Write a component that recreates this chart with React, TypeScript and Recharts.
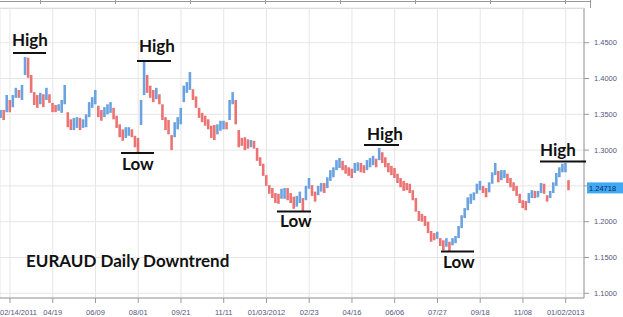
import { BarChart, Bar, Cell, XAxis, YAxis, CartesianGrid, ReferenceLine } from 'recharts';

const xLabels = ['02/14/2011', '04/19', '06/09', '08/01', '09/21', '11/11', '01/03/2012', '02/23', '04/16', '06/06', '07/27', '09/18', '11/08', '01/02/2013'];

// one bar every ~2.6 trading days
const highs = [
  1.356, 1.356, 1.377, 1.370, 1.377, 1.387, 1.384, 1.391, 1.430, 1.429,
  1.405, 1.381, 1.377, 1.380, 1.378, 1.387, 1.378, 1.366, 1.363, 1.364,
  1.370, 1.391, 1.353, 1.343, 1.345, 1.346, 1.345, 1.343, 1.350, 1.367,
  1.374, 1.384, 1.362, 1.356, 1.360, 1.364, 1.367, 1.359, 1.348, 1.336,
  1.329, 1.332, 1.332, 1.329, 1.320, 1.317, 1.370, 1.423, 1.405, 1.390,
  1.384, 1.387, 1.378, 1.364, 1.346, 1.342, 1.321, 1.339, 1.346, 1.359,
  1.390, 1.395, 1.409, 1.385, 1.375, 1.359, 1.352, 1.348, 1.343, 1.334,
  1.335, 1.336, 1.341, 1.341, 1.339, 1.370, 1.381, 1.370, 1.328, 1.317,
  1.318, 1.315, 1.314, 1.313, 1.303, 1.290, 1.281, 1.265, 1.251, 1.247,
  1.240, 1.239, 1.246, 1.247, 1.247, 1.240, 1.235, 1.236, 1.242, 1.233,
  1.250, 1.261, 1.251, 1.242, 1.250, 1.254, 1.254, 1.262, 1.272, 1.276,
  1.286, 1.289, 1.285, 1.279, 1.276, 1.274, 1.282, 1.283, 1.282, 1.279,
  1.286, 1.289, 1.292, 1.288, 1.303, 1.297, 1.290, 1.282, 1.278, 1.275,
  1.267, 1.261, 1.257, 1.254, 1.253, 1.244, 1.233, 1.215, 1.211, 1.208,
  1.200, 1.187, 1.184, 1.186, 1.177, 1.174, 1.177, 1.172, 1.177, 1.180,
  1.194, 1.209, 1.219, 1.234, 1.239, 1.241, 1.253, 1.257, 1.250, 1.247,
  1.255, 1.269, 1.282, 1.271, 1.272, 1.272, 1.267, 1.261, 1.255, 1.250,
  1.239, 1.230, 1.229, 1.240, 1.244, 1.243, 1.243, 1.254, 1.253, 1.237,
  1.243, 1.255, 1.268, 1.276, 1.281, 1.282, 1.258,
];

const lows = [
  1.345, 1.342, 1.353, 1.353, 1.360, 1.373, 1.373, 1.370, 1.405, 1.401,
  1.380, 1.363, 1.359, 1.364, 1.360, 1.370, 1.366, 1.353, 1.353, 1.355,
  1.352, 1.364, 1.332, 1.328, 1.328, 1.331, 1.328, 1.331, 1.332, 1.346,
  1.359, 1.364, 1.346, 1.341, 1.346, 1.350, 1.352, 1.343, 1.331, 1.318,
  1.313, 1.317, 1.320, 1.318, 1.304, 1.297, 1.335, 1.377, 1.380, 1.373,
  1.367, 1.371, 1.364, 1.342, 1.328, 1.322, 1.300, 1.318, 1.329, 1.336,
  1.367, 1.380, 1.384, 1.370, 1.359, 1.345, 1.339, 1.334, 1.329, 1.317,
  1.314, 1.322, 1.327, 1.329, 1.329, 1.342, 1.364, 1.336, 1.304, 1.306,
  1.300, 1.302, 1.304, 1.302, 1.285, 1.278, 1.264, 1.250, 1.239, 1.233,
  1.226, 1.225, 1.232, 1.232, 1.230, 1.226, 1.218, 1.221, 1.226, 1.215,
  1.230, 1.246, 1.236, 1.228, 1.237, 1.242, 1.240, 1.247, 1.257, 1.262,
  1.272, 1.275, 1.272, 1.267, 1.264, 1.261, 1.268, 1.271, 1.269, 1.268,
  1.272, 1.276, 1.279, 1.276, 1.286, 1.282, 1.276, 1.269, 1.265, 1.261,
  1.254, 1.248, 1.243, 1.244, 1.240, 1.230, 1.214, 1.201, 1.200, 1.194,
  1.184, 1.172, 1.174, 1.176, 1.166, 1.160, 1.165, 1.159, 1.167, 1.170,
  1.177, 1.191, 1.205, 1.216, 1.225, 1.230, 1.239, 1.244, 1.240, 1.234,
  1.241, 1.253, 1.265, 1.255, 1.258, 1.261, 1.254, 1.248, 1.243, 1.236,
  1.226, 1.219, 1.216, 1.226, 1.233, 1.233, 1.234, 1.240, 1.239, 1.228,
  1.233, 1.240, 1.250, 1.262, 1.269, 1.269, 1.244,
];

const lastPrice = 1.24718;
const yTicks = [1.1, 1.15, 1.2, 1.25, 1.3, 1.35, 1.4, 1.45];

const labelIdx = xLabels.map((_, j) => 3 + 14 * j);
const minorX = Array.from({ length: 95 }, (_, k) => 1 + 2 * k);
const minorY = Array.from({ length: 81 }, (_, k) => +(1.095 + 0.005 * k).toFixed(3));

const data = highs.map((h, i) => ({
  i,
  range: [lows[i], h],
  up: i === 0 || h + lows[i] >= highs[i - 1] + lows[i - 1],
}));

const X_DOMAIN = [-0.275, 191];
const Y_DOMAIN = [1.0934, 1.4985];
const BLUE = '#6aa3e0';
const RED = '#eb7373';
const AXIS = '#9a9a9a';
const TXT = '#55557a';
const SMALL = "'Liberation Sans', Arial, sans-serif";
const ANN = "Lato, 'Open Sans', sans-serif";

// date labels; the first one is pushed in so it is not cut at the left edge
const DateTick = (props: any) => {
  const { x, y, payload } = props;
  const j = (payload.value - 3) / 14;
  const first = j === 0;
  return (
    <text
      x={first ? 0 : x}
      y={y + 8}
      textAnchor={first ? 'start' : 'middle'}
      fontSize={7.5}
      fill={TXT}
      fontFamily={SMALL}
    >
      {xLabels[j]}
    </text>
  );
};

const PriceTag = (props: any) => {
  const vb = props.viewBox || {};
  const x = vb.x + vb.width + 3;
  const y = vb.y;
  return (
    <g>
      <rect x={x} y={y - 5.5} width={36} height={11} fill="#3fa9f5" />
      <text x={x + 2} y={y + 3} fontSize={7.5} fill="#0b2a55" fontFamily={SMALL}>
        {lastPrice}
      </text>
    </g>
  );
};

const marks = [
  { t: 'High', tx: 12, ty: 46, x1: 13, x2: 46, y: 53 },
  { t: 'High', tx: 139, ty: 52, x1: 137, x2: 171, y: 61 },
  { t: 'Low', tx: 122, ty: 170, x1: 121, x2: 154, y: 153 },
  { t: 'Low', tx: 280, ty: 227, x1: 277, x2: 311, y: 211.5 },
  { t: 'High', tx: 367, ty: 140, x1: 364, x2: 399, y: 145 },
  { t: 'Low', tx: 443, ty: 268, x1: 441, x2: 474, y: 251.5 },
  { t: 'High', tx: 540, ty: 156, x1: 540, x2: 586, y: 161.5 },
];

export default function App() {
  return (
    <div style={{ position: 'absolute', left: 0, top: 0, width: 623, height: 317, background: '#fff' }}>
      <BarChart width={623} height={317} data={data} margin={{ top: 8, right: 0, left: 0, bottom: 0 }} barSize={2.6}>
        <CartesianGrid stroke="#e6e6e6" xAxisId="main" yAxisId="main" />
        <XAxis
          xAxisId="minor"
          type="number"
          dataKey="i"
          domain={X_DOMAIN}
          allowDataOverflow
          ticks={minorX}
          interval={0}
          height={0}
          tickSize={3}
          tickFormatter={() => ''}
          axisLine={false}
          tickLine={{ stroke: AXIS }}
        />
        <XAxis
          xAxisId="main"
          type="number"
          dataKey="i"
          domain={X_DOMAIN}
          allowDataOverflow
          ticks={labelIdx}
          interval={0}
          height={19}
          tickSize={5}
          tickMargin={4}
          tick={<DateTick />}
          axisLine={{ stroke: AXIS }}
          tickLine={{ stroke: AXIS }}
        />
        <YAxis
          yAxisId="minor"
          orientation="right"
          type="number"
          domain={Y_DOMAIN}
          allowDataOverflow
          ticks={minorY}
          interval={0}
          width={0}
          tickSize={3}
          tickFormatter={() => ''}
          axisLine={false}
          tickLine={{ stroke: AXIS }}
        />
        <YAxis
          yAxisId="main"
          orientation="right"
          type="number"
          domain={Y_DOMAIN}
          allowDataOverflow
          ticks={yTicks}
          interval={0}
          width={39}
          tickSize={5}
          tickMargin={5}
          tickFormatter={(v: number) => (Math.abs(v - lastPrice) < 0.01 ? '' : v.toFixed(4))}
          tick={{ fontSize: 7.5, fill: TXT, fontFamily: SMALL, textAnchor: 'start' }}
          axisLine={{ stroke: AXIS }}
          tickLine={{ stroke: AXIS }}
        />
        <Bar dataKey="range" xAxisId="main" yAxisId="main" isAnimationActive={false}>
          {data.map((d) => (
            <Cell key={d.i} fill={d.up ? BLUE : RED} />
          ))}
        </Bar>
        <ReferenceLine
          xAxisId="main"
          yAxisId="main"
          y={lastPrice}
          stroke="none"
          ifOverflow="visible"
          label={<PriceTag />}
        />
      </BarChart>
      <svg width={623} height={317} style={{ position: 'absolute', left: 0, top: 0, pointerEvents: 'none' }}>
        <line x1={0} x2={590} y1={1.5} y2={1.5} stroke={AXIS} />
        {[40, 115, 190, 265, 340, 415, 490, 565].map((x) => (
          <line key={x} x1={x + 0.5} x2={x + 0.5} y1={0} y2={4} stroke={AXIS} />
        ))}
        <line x1={590.5} x2={590.5} y1={0} y2={8} stroke={AXIS} />
        <line x1={0} x2={584} y1={8.5} y2={8.5} stroke="#dcdcdc" />
        {marks.map((m, k) => (
          <g key={k}>
            <text x={m.tx} y={m.ty} fontSize={17} fontWeight={700} fontFamily={ANN} fill="#111">
              {m.t}
            </text>
            <line x1={m.x1} x2={m.x2} y1={m.y} y2={m.y} stroke="#111" strokeWidth={2.2} />
          </g>
        ))}
        <text x={26} y={267} fontSize={17} fontWeight={700} fontFamily={ANN} fill="#111">
          EURAUD Daily Downtrend
        </text>
      </svg>
    </div>
  );
}
